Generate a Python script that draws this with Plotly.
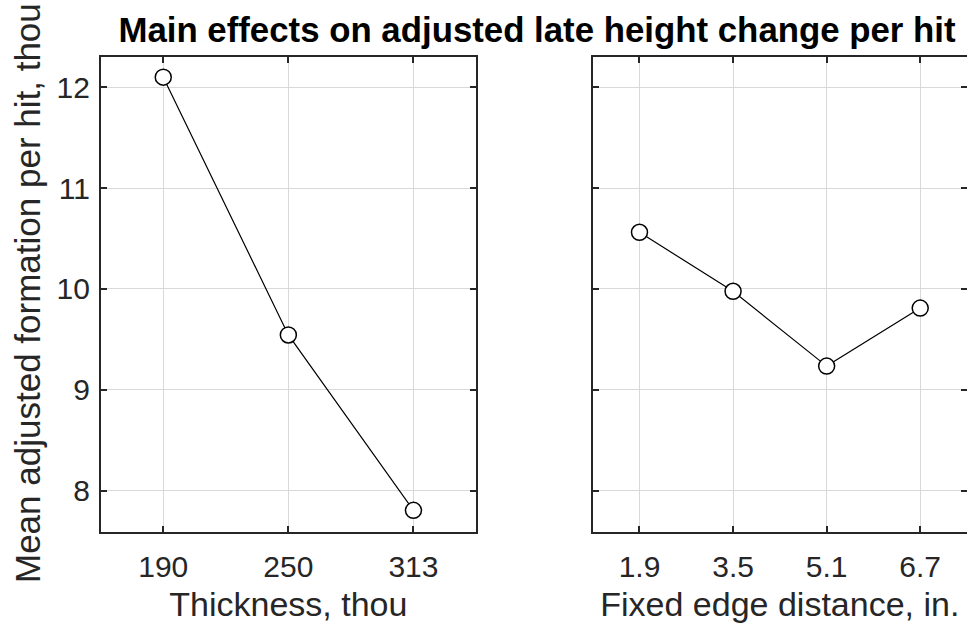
import plotly.graph_objects as go

# Data
thickness_labels = ["190", "250", "313"]
thickness_means = [12.10, 9.544, 7.805]

edge_labels = ["1.9", "3.5", "5.1", "6.7"]
edge_means = [10.562, 9.977, 9.235, 9.81]

y_tick_vals = [8, 9, 10, 11, 12]

title_text = "Main effects on adjusted late height change per hit"
y_title = "Mean adjusted formation per hit, thou"
x1_title = "Thickness, thou"
x2_title = "Fixed edge distance, in."

W, H = 967, 630
FONT = "Liberation Sans, Arial, Helvetica, sans-serif"
AX = "#262626"
GRID = "#d9d9d9"

fig = go.Figure()

line_style = dict(color="black", width=1.2)
marker_style = dict(symbol="circle", size=16, color="white",
                    line=dict(color="black", width=1.5))

fig.add_trace(go.Scatter(x=thickness_labels, y=thickness_means, mode="lines+markers",
                         line=line_style, marker=marker_style, xaxis="x", yaxis="y",
                         showlegend=False, cliponaxis=False))
fig.add_trace(go.Scatter(x=edge_labels, y=edge_means, mode="lines+markers",
                         line=line_style, marker=marker_style, xaxis="x2", yaxis="y2",
                         showlegend=False, cliponaxis=False))

x1_dom = [100.7 / W, 476.0 / W]
x2_dom = [592.7 / W, 1.0]
y_dom = [(H - 531.7) / H, (H - 57.3) / H]
y_range = [7.593, 12.297]

common_axis = dict(showline=True, linecolor=AX, linewidth=1.7, mirror="ticks",
                   ticks="inside", ticklen=6, tickwidth=1.7, tickcolor=AX,
                   showgrid=True, gridcolor=GRID, gridwidth=1.2, zeroline=False,
                   tickfont=dict(family=FONT, size=30, color=AX), automargin=False)

fig.update_layout(
    width=W, height=H,
    margin=dict(l=0, r=0, t=0, b=0),
    paper_bgcolor="white", plot_bgcolor="white",
    font=dict(family=FONT, color=AX),
    title=dict(text=title_text, x=537 / W, xanchor="center", y=(H - 30) / H, yanchor="middle",
               font=dict(family=FONT, size=34.8, color="black", weight="bold")),
    xaxis=dict(domain=x1_dom, anchor="y", type="category", range=[-0.5, 2.5],
               ticklabelstandoff=7,
               title=dict(text=x1_title, font=dict(family=FONT, size=34, color=AX), standoff=11),
               **common_axis),
    xaxis2=dict(domain=x2_dom, anchor="y2", type="category", range=[-0.5, 3.5],
                ticklabelstandoff=7,
                title=dict(text=x2_title, font=dict(family=FONT, size=34, color=AX), standoff=11),
                **common_axis),
    yaxis=dict(domain=y_dom, anchor="x", range=y_range, tickvals=y_tick_vals,
               ticklabelstandoff=3, **common_axis),
    yaxis2=dict(domain=y_dom, anchor="x2", range=y_range, tickvals=y_tick_vals,
                showticklabels=False, **common_axis),
    annotations=[dict(text=y_title, textangle=-90, xref="paper", yref="paper",
                      x=27 / W, y=(H - 293) / H, xanchor="center", yanchor="middle",
                      showarrow=False, font=dict(family=FONT, size=35, color=AX))],
)

fig.write_html("out.html", config={"displayModeBar": False},
               post_script="document.body.style.margin='0px';document.body.style.overflow='hidden';")
